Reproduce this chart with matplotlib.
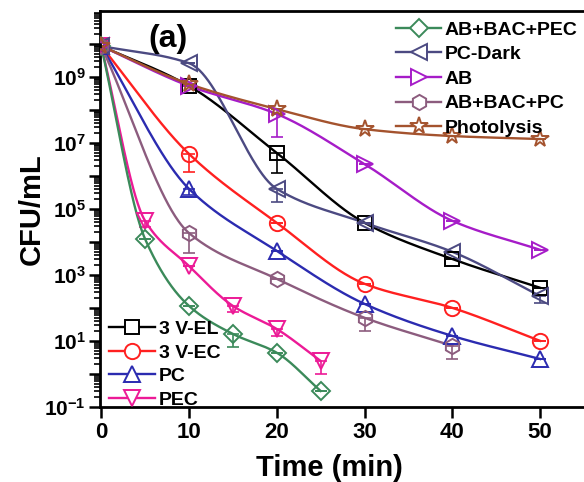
import numpy as np
import matplotlib
matplotlib.use('Agg')
import matplotlib.pyplot as plt
from matplotlib.ticker import FixedLocator, FuncFormatter, LogLocator, NullFormatter

plt.rcParams['font.family'] = ['Liberation Sans', 'DejaVu Sans']
plt.rcParams['font.weight'] = 'bold'
plt.rcParams['mathtext.fontset'] = 'custom'
plt.rcParams['mathtext.rm'] = 'Liberation Sans:bold'
plt.rcParams['mathtext.bf'] = 'Liberation Sans:bold'

# CFU/mL (log10 values)
t_long = [0, 10, 20, 30, 40, 50]
t_ab_pc = [0, 10, 20, 30, 40]
t_short = [0, 5, 10, 15, 20, 25]

log_3vel = [9.94, 8.73, 6.70, 4.58, 3.48, 2.61]
log_3vec = [9.94, 6.67, 4.58, 2.73, 2.00, 1.00]
log_pc = [9.94, 5.61, 3.73, 2.12, 1.15, 0.45]
log_pec = [9.94, 4.64, 3.27, 2.06, 1.36, 0.39]
log_ab_bac_pec = [9.94, 4.09, 2.06, 1.21, 0.64, -0.52]
log_pc_dark = [9.94, 9.42, 5.61, 4.58, 3.70, 2.36]
log_ab = [9.94, 8.73, 7.88, 6.36, 4.64, 3.76]
log_ab_bac_pc = [9.94, 4.27, 2.88, 1.70, 0.85]
log_photolysis = [9.94, 8.79, 8.03, 7.42, 7.21, 7.12]

# downward error bars, in decades
err_3vel = [0, 0, 0.6, 0, 0, 0]
err_3vec = [0, 0.55, 0, 0, 0, 0]
err_pc = [0, 0.2, 0, 0, 0, 0]
err_pec = [0, 0.2, 0, 0.2, 0.2, 0.4]
err_ab_bac_pec = [0, 0, 0, 0.4, 0, 0]
err_pc_dark = [0, 0, 0.4, 0, 0, 0.2]
err_ab = [0, 0, 0.7, 0, 0, 0]
err_ab_bac_pc = [0, 0.6, 0, 0.4, 0.4]
err_photolysis = [0, 0, 0, 0, 0, 0]

series = [
    ('3 V-EL', t_long, log_3vel, err_3vel, 'black', 's', 10),
    ('3 V-EC', t_long, log_3vec, err_3vec, '#ff2020', 'o', 11),
    ('PC', t_long, log_pc, err_pc, '#2b2bb0', '^', 11),
    ('PEC', t_short, log_pec, err_pec, '#ec1a96', 'v', 11),
    ('AB+BAC+PEC', t_short, log_ab_bac_pec, err_ab_bac_pec, '#3b8a5a', 'D', 9),
    ('PC-Dark', t_long, log_pc_dark, err_pc_dark, '#4c4a82', '<', 11),
    ('AB', t_long, log_ab, err_ab, '#a61cc8', '>', 11),
    ('AB+BAC+PC', t_ab_pc, log_ab_bac_pc, err_ab_bac_pc, '#8c5c7e', 'h', 11),
    ('Photolysis', t_long, log_photolysis, err_photolysis, '#a4532e', '*', 13),
]


def pchip(x, y, xs):
    x = np.asarray(x, float)
    y = np.asarray(y, float)
    h = np.diff(x)
    d = np.diff(y) / h
    m = np.zeros_like(y)
    m[0], m[-1] = d[0], d[-1]
    for k in range(1, len(x) - 1):
        if d[k - 1] * d[k] > 0:
            w1 = 2 * h[k] + h[k - 1]
            w2 = h[k] + 2 * h[k - 1]
            m[k] = (w1 + w2) / (w1 / d[k - 1] + w2 / d[k])
    idx = np.clip(np.searchsorted(x, xs) - 1, 0, len(x) - 2)
    s = (xs - x[idx]) / h[idx]
    h00 = 2 * s**3 - 3 * s**2 + 1
    h10 = s**3 - 2 * s**2 + s
    h01 = -2 * s**3 + 3 * s**2
    h11 = s**3 - s**2
    return h00 * y[idx] + h10 * h[idx] * m[idx] + h01 * y[idx + 1] + h11 * h[idx] * m[idx + 1]


fig = plt.figure(figsize=(5.84, 4.82), dpi=100)
ax = fig.add_axes([0.171, 0.156, 0.829, 0.821])

handles = {}
for name, t, logv, err, color, marker, ms in series:
    t = np.asarray(t, float)
    logv = np.asarray(logv)
    vals = 10 ** logv
    xs = np.linspace(t[0], t[-1], 300)
    ax.plot(xs, 10 ** pchip(t, logv, xs), color=color, lw=1.7, zorder=2)
    lo = vals - 10 ** (logv - np.asarray(err))
    ax.errorbar(t, vals, yerr=[lo, np.zeros_like(lo)], fmt='none', ecolor=color,
                elinewidth=1.2, capsize=4, capthick=1.2, zorder=2)
    ax.plot(t, vals, linestyle='none', marker=marker, ms=ms, mfc='none',
            mec=color, mew=1.4, zorder=3)
    handles[name] = ax.plot([], [], color=color, lw=1.7, marker=marker, ms=ms,
                            mfc='white', mec=color, mew=1.4)[0]

ax.set_yscale('log')
ax.set_ylim(0.1, 1e11)
ax.set_xlim(-0.15, 55)

ax.set_xticks([0, 10, 20, 30, 40, 50])
ax.yaxis.set_major_locator(FixedLocator([10.0 ** k for k in range(-1, 11)]))
ax.yaxis.set_major_formatter(FuncFormatter(
    lambda v, p: r'$\mathbf{10^{%d}}$' % round(np.log10(v)) if round(np.log10(v)) % 2 else ''))
ax.yaxis.set_minor_locator(LogLocator(base=10, subs=np.arange(2, 10), numticks=30))
ax.yaxis.set_minor_formatter(NullFormatter())

for s in ['left', 'bottom', 'top']:
    ax.spines[s].set_linewidth(2)
ax.spines['right'].set_visible(False)
ax.tick_params(axis='x', which='major', direction='out', length=8, width=1.8,
               labelsize=16, pad=3)
ax.tick_params(axis='y', which='major', direction='out', length=8, width=1.8,
               labelsize=15, pad=2)
ax.tick_params(axis='y', which='minor', direction='out', length=4, width=1.2)
for lab in ax.get_xticklabels():
    lab.set_fontweight('bold')

ax.set_xlabel('Time (min)', fontsize=21, fontweight='bold')
ax.xaxis.set_label_coords(0.475, -0.118)
ax.set_ylabel('CFU/mL', fontsize=21, fontweight='bold')
ax.yaxis.set_label_coords(-0.112, 0.5)
ax.text(0.1, 0.93, '(a)', transform=ax.transAxes, fontsize=23,
        fontweight='bold', ha='left', va='center')

names1 = ['AB+BAC+PEC', 'PC-Dark', 'AB', 'AB+BAC+PC', 'Photolysis']
leg1 = ax.legend([handles[n] for n in names1], names1, loc='upper left',
                 bbox_to_anchor=(0.612, 0.975), frameon=False, fontsize=14,
                 handlelength=2.3, handletextpad=0.2, labelspacing=0.36,
                 borderpad=0, borderaxespad=0)
ax.add_artist(leg1)
names2 = ['3 V-EL', '3 V-EC', 'PC', 'PEC']
ax.legend([handles[n] for n in names2], names2, loc='lower left',
          bbox_to_anchor=(0.018, -0.005), frameon=False, fontsize=14,
          handlelength=2.4, handletextpad=0.2, labelspacing=0.31,
          borderpad=0, borderaxespad=0)

fig.savefig('out.png', dpi=100)
